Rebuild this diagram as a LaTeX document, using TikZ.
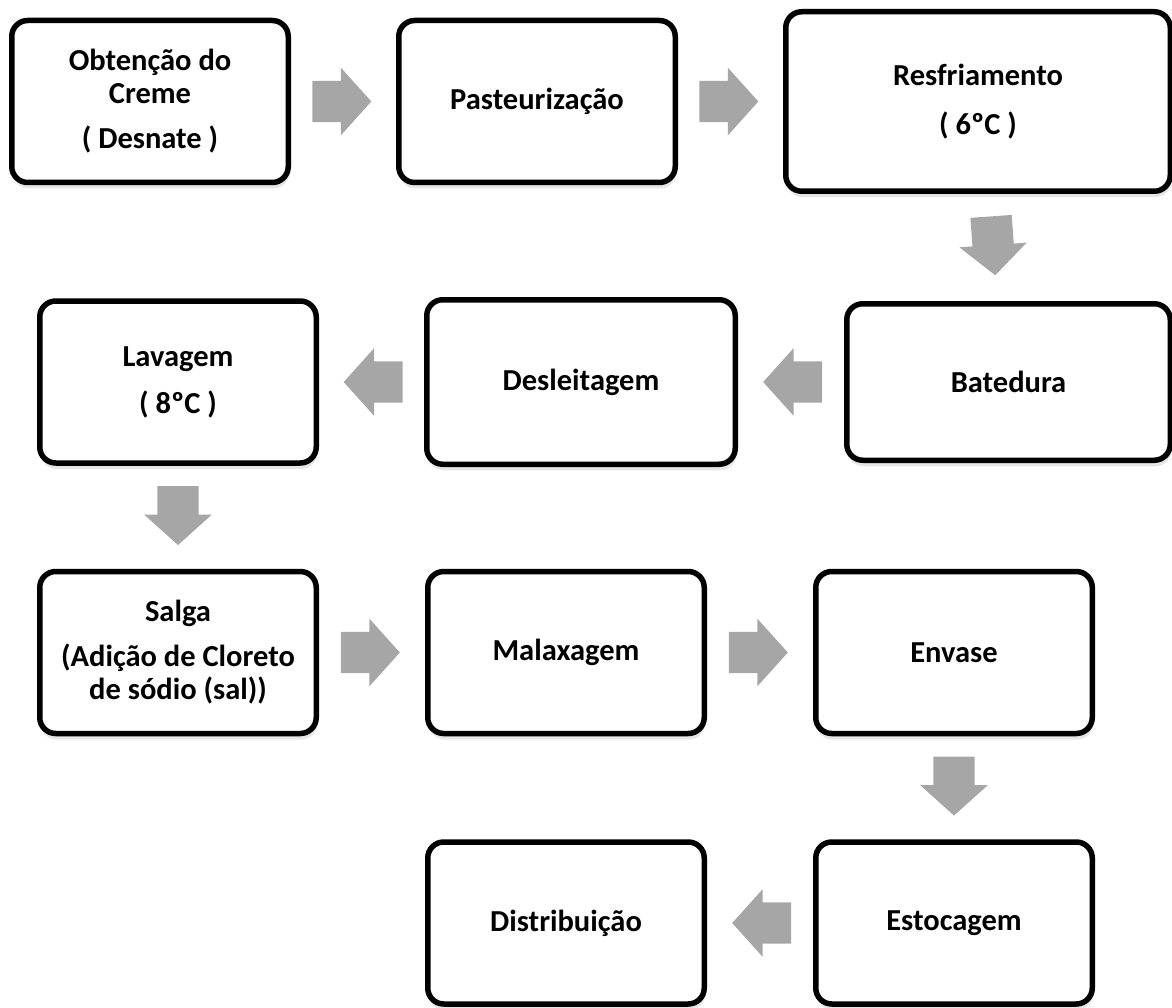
\documentclass[tikz,border=0pt]{standalone}
\usepackage{fontspec}
\setmainfont{Carlito}
\usetikzlibrary{positioning,shapes.arrows,shadows}
\definecolor{cinzaseta}{RGB}{166,166,166}

\begin{document}
\begin{tikzpicture}[x=1pt,y=-1pt,
        etapa/.style={draw, line width=5.5pt, rounded corners=16pt, fill=white,
            minimum width=276.5pt, minimum height=162pt, align=center,
            font=\fontsize{30.5}{33}\selectfont\bfseries,
            drop shadow={shadow xshift=1pt, shadow yshift=-6pt, opacity=.2}},
        seta/.style={single arrow, fill=cinzaseta, draw=none,
            inner xsep=0pt, inner ysep=20.5pt,
            minimum height=59pt, single arrow head extend=13pt,
            single arrow tip angle=96},
        para/.style={rotate=#1, xshift=-11pt}]
            \useasboundingbox (0,0) rectangle (1172,1008);

            \node [etapa] (ob) at (150,101.5) {Obtenção do\\Creme\\[12pt]( Desnate )};
            \node [etapa, right=105pt of ob] (pa) {Pasteurização};
            \node [etapa, right=105pt of pa, minimum width=384.5pt, minimum height=179.5pt] (re) {Resfriamento\\[16pt]( 6ºC )};
            \node [etapa, below left=107pt and 0pt of re.south east, minimum width=323.5pt, minimum height=156.5pt] (ba) {Batedura};
            \node [etapa, left=106pt of ba, minimum width=308.5pt, minimum height=164.5pt] (de) {Desleitagem};
            \node [etapa, left=105pt of de] (la) {Lavagem\\[14pt]( 8ºC )};
            \node [etapa, below=103pt of la] (sa) {Salga\\[12pt](Adição de Cloreto\\de sódio (sal))};
            \node [etapa, right=106pt of sa] (ma) {Malaxagem};
            \node [etapa, right=106pt of ma] (en) {Envase};
            \node [etapa, below=103pt of en] (es) {Estocagem};
            \node [etapa, left=106pt of es] (di) {Distribuição};

            \path (ob.east) -- (pa.west) node [seta, midway, para=0] {};
            \path (pa.east) -- (re.west) node [seta, midway, para=0] {};
            \path (re.south) -- (ba.north) node [seta, midway, para=-86] {};
            \path (ba.west) -- (de.east) node [seta, midway, para=180] {};
            \path (de.west) -- (la.east) node [seta, midway, para=180] {};
            \path (la.south) -- (sa.north) node [seta, midway, para=-90] {};
            \path (sa.east) -- (ma.west) node [seta, midway, para=0] {};
            \path (ma.east) -- (en.west) node [seta, midway, para=0] {};
            \path (en.south) -- (es.north) node [seta, midway, para=-90] {};
            \path (es.west) -- (di.east) node [seta, midway, para=180] {};
        \end{tikzpicture}
\end{document}
